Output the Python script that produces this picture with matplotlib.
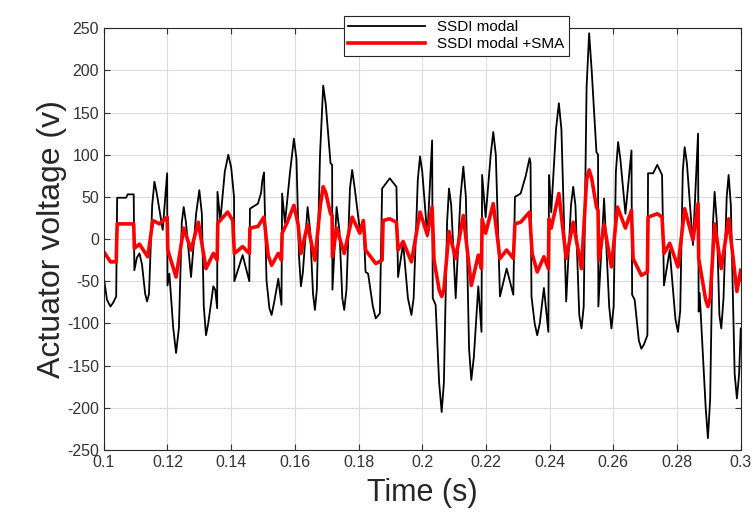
import numpy as np
import matplotlib.pyplot as plt

plt.rcParams['font.family'] = ['Liberation Sans', 'DejaVu Sans']
plt.rcParams['axes.unicode_minus'] = False

# SSDI modal (black) - time (s), voltage (v)
t_ssdi = [0.1000, 0.1010, 0.1021, 0.1030, 0.1039, 0.1042, 0.1070, 0.1075, 0.1094, 0.1096,
          0.1104, 0.1112, 0.1120, 0.1130, 0.1136, 0.1142, 0.1152, 0.1159, 0.1166, 0.1185,
          0.1193, 0.1199, 0.1200, 0.1206, 0.1218, 0.1227, 0.1236, 0.1245, 0.1251, 0.1258,
          0.1274, 0.1290, 0.1300, 0.1308, 0.1314, 0.1321, 0.1328, 0.1344, 0.1350, 0.1356,
          0.1357, 0.1366, 0.1380, 0.1391, 0.1400, 0.1409, 0.1410, 0.1436, 0.1457, 0.1459,
          0.1484, 0.1494, 0.1498, 0.1503, 0.1511, 0.1520, 0.1527, 0.1535, 0.1548, 0.1558,
          0.1560, 0.1569, 0.1585, 0.1597, 0.1605, 0.1613, 0.1619, 0.1625, 0.1640, 0.1648,
          0.1657, 0.1663, 0.1669, 0.1679, 0.1689, 0.1697, 0.1712, 0.1717, 0.1718, 0.1731,
          0.1740, 0.1749, 0.1755, 0.1762, 0.1773, 0.1780, 0.1788, 0.1804, 0.1815, 0.1822,
          0.1830, 0.1845, 0.1854, 0.1867, 0.1874, 0.1898, 0.1919, 0.1924, 0.1940, 0.1955,
          0.1966, 0.1973, 0.1986, 0.1993, 0.2000, 0.2016, 0.2031, 0.2033, 0.2042, 0.2053,
          0.2061, 0.2068, 0.2078, 0.2084, 0.2091, 0.2105, 0.2120, 0.2129, 0.2137, 0.2147,
          0.2154, 0.2162, 0.2176, 0.2186, 0.2188, 0.2199, 0.2215, 0.2223, 0.2231, 0.2244,
          0.2265, 0.2286, 0.2291, 0.2309, 0.2325, 0.2337, 0.2340, 0.2343, 0.2353, 0.2361,
          0.2369, 0.2382, 0.2396, 0.2398, 0.2405, 0.2420, 0.2429, 0.2437, 0.2452, 0.2467,
          0.2474, 0.2481, 0.2493, 0.2500, 0.2507, 0.2516, 0.2524, 0.2532, 0.2547, 0.2552,
          0.2553, 0.2571, 0.2587, 0.2594, 0.2601, 0.2608, 0.2615, 0.2622, 0.2638, 0.2657,
          0.2659, 0.2667, 0.2680, 0.2688, 0.2696, 0.2707, 0.2709, 0.2725, 0.2738, 0.2753,
          0.2759, 0.2777, 0.2795, 0.2803, 0.2810, 0.2818, 0.2824, 0.2831, 0.2850, 0.2866,
          0.2868, 0.2871, 0.2890, 0.2897, 0.2904, 0.2913, 0.2918, 0.2925, 0.2933, 0.2939,
          0.2946, 0.2956, 0.2962, 0.2969, 0.2981, 0.2988, 0.2995, 0.3000]
v_ssdi = [-45, -72, -80, -75, -68, 49, 49, 53, 53, -37,
          -22, -17, -30, -65, -74, -65, 40, 68, 55, 11,
          50, 78, -55, -41, -105, -135, -105, 20, 38, 20,
          -45, 30, 58, 30, -80, -114, -100, -56, -60, -82,
          56, 22, 80, 100, 85, 50, -50, -19, -50, 36,
          42, 55, 70, 79, -49, -82, -90, -75, -47, -78,
          54, 19, 80, 119, 95, -20, -56, -40, 38, 10,
          -65, -84, -60, 100, 182, 160, 90, 88, -60, 38,
          10, -70, -84, -60, 60, 82, 60, 11, 22, -39,
          -41, -80, -94, -88, 60, 72, 62, -45, -5, -70,
          -90, -70, 70, 98, 80, 3, 117, -70, -78, -170,
          -205, -170, 20, 60, 40, -70, 50, 86, 50, -130,
          -167, -140, -56, -110, 76, 26, 100, 127, 100, -68,
          -35, -66, 50, 54, 75, 96, 90, -68, -100, -114,
          -100, -58, -110, 76, 32, 130, 161, 130, -74, 40,
          62, 40, -90, -106, -80, 180, 244, 200, 103, 100,
          -80, 48, -80, -106, -80, 80, 115, 95, 30, 105,
          -66, -72, -120, -130, -125, -114, 78, 78, 88, 76,
          -55, -13, -95, -110, -85, 80, 109, 90, -7, 125,
          -86, -64, -200, -236, -190, 20, 56, 20, -90, -106,
          -70, 50, 76, 40, -160, -189, -160, -106]

# SSDI modal + SMA (red)
t_sma = [0.1000, 0.1021, 0.1039, 0.1042, 0.1094, 0.1096, 0.1112, 0.1138, 0.1154, 0.1175,
         0.1199, 0.1201, 0.1227, 0.1251, 0.1274, 0.1297, 0.1321, 0.1344, 0.1356, 0.1358,
         0.1389, 0.1405, 0.1410, 0.1436, 0.1457, 0.1459, 0.1484, 0.1503, 0.1516, 0.1527,
         0.1548, 0.1558, 0.1560, 0.1574, 0.1597, 0.1610, 0.1619, 0.1640, 0.1663, 0.1680,
         0.1689, 0.1697, 0.1712, 0.1717, 0.1718, 0.1731, 0.1755, 0.1780, 0.1804, 0.1815,
         0.1822, 0.1854, 0.1874, 0.1877, 0.1898, 0.1919, 0.1924, 0.1940, 0.1966, 0.1993,
         0.2016, 0.2031, 0.2037, 0.2053, 0.2061, 0.2068, 0.2084, 0.2105, 0.2129, 0.2154,
         0.2176, 0.2186, 0.2188, 0.2199, 0.2223, 0.2244, 0.2265, 0.2286, 0.2291, 0.2309,
         0.2337, 0.2345, 0.2361, 0.2382, 0.2396, 0.2398, 0.2405, 0.2429, 0.2452, 0.2474,
         0.2500, 0.2516, 0.2524, 0.2532, 0.2547, 0.2552, 0.2554, 0.2571, 0.2594, 0.2613,
         0.2638, 0.2657, 0.2662, 0.2688, 0.2707, 0.2709, 0.2738, 0.2753, 0.2759, 0.2777,
         0.2803, 0.2824, 0.2850, 0.2866, 0.2868, 0.2890, 0.2897, 0.2904, 0.2918, 0.2939,
         0.2962, 0.2988, 0.3000]
v_sma = [-15, -27, -27, 18, 18, -11, -6, -21, 22, 18,
         26, -13, -45, 13, -13, 20, -35, -17, -25, 19,
         32, 22, -17, -9, -17, 13, 15, 26, -19, -31,
         -17, -25, 7, 18, 40, 18, -17, 17, -25, 40,
         62, 55, 30, 28, -21, 13, -17, 26, 7, 22,
         -13, -29, -25, 22, 24, 20, -13, -3, -27, 32,
         5, 38, -25, -60, -68, -60, 9, -23, 28, -55,
         -19, -35, 24, 7, 42, -23, -13, -23, 18, 20,
         32, -17, -39, -21, -35, 24, 13, 54, -23, 20,
         -35, 70, 82, 72, 38, 34, -25, 17, -33, 38,
         13, 34, -23, -43, -39, 26, 30, 26, -17, -5,
         -33, 36, -1, 42, -23, -72, -80, -70, 18, -35,
         24, -62, -37]

x_ticks = [0.1, 0.12, 0.14, 0.16, 0.18, 0.2, 0.22, 0.24, 0.26, 0.28, 0.3]
x_labels = ['0.1', '0.12', '0.14', '0.16', '0.18', '0.2', '0.22', '0.24', '0.26', '0.28', '0.3']
y_ticks = list(range(-250, 251, 50))

fig = plt.figure(figsize=(7.52, 5.22), dpi=100)
ax = fig.add_axes([0.138, 0.138, 0.847, 0.808])

ax.plot(t_ssdi, v_ssdi, color='black', lw=1.3, label='SSDI modal')
ax.plot(t_sma, v_sma, color='red', lw=2.6, label='SSDI modal +SMA')

ax.set_xlim(0.1, 0.3)
ax.set_ylim(-250, 250)
ax.set_xticks(x_ticks)
ax.set_xticklabels(x_labels)
ax.set_yticks(y_ticks)
ax.grid(True, color='#dcdcdc', lw=0.8)
ax.tick_params(direction='in', top=True, right=True, labelsize=11.5, colors='#333333', length=4)
for s in ax.spines.values():
    s.set_color('#262626')

ax.set_xlabel('Time (s)', fontsize=22, color='#262626', labelpad=6)
ax.set_ylabel('Actuator voltage (v)', fontsize=23, color='#262626', labelpad=0)

leg = fig.legend(loc='upper left', bbox_to_anchor=(336 / 752, 1 - 8 / 522), fontsize=11,
                 frameon=True, fancybox=False, edgecolor='#262626', framealpha=1,
                 handlelength=5, borderpad=0.3, labelspacing=0.2)
leg.get_frame().set_linewidth(0.8)

fig.savefig('out.png', dpi=100)
